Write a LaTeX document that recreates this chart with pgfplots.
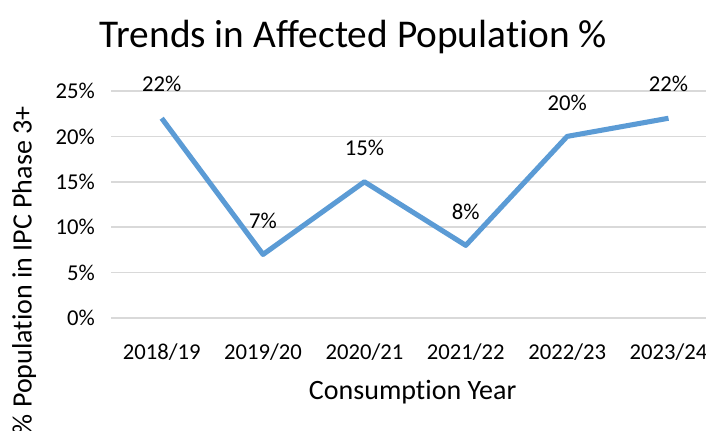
\documentclass[border=0pt]{standalone}
\usepackage{pgfplots}
\pgfplotsset{compat=1.18}
\usepackage{fontspec}
\setmainfont{Carlito}[Ligatures=NoCommon]
\definecolor{lineblue}{HTML}{5B9BD5}
\definecolor{gridgray}{HTML}{D9D9D9}
\begin{document}
\begin{tikzpicture}
\begin{axis}[
  at={(83.25pt,84pt)}, anchor=south west,
  scale only axis, width=446.25pt, height=170.25pt,
  xmin=-0.5, xmax=5.37, ymin=0, ymax=0.25,
  /pgf/number format/assume math mode=true,
  axis line style={draw=none},
  major tick length=0pt,
  xtick={0,1,2,3,4,5},
  xticklabels={2018/19,2019/20,2020/21,2021/22,2022/23,2023/24},
  ytick={0,0.05,0.10,0.15,0.20,0.25},
  yticklabels={0\%,5\%,10\%,15\%,20\%,25\%},
  ymajorgrids, major grid style={gridgray, line width=1.1pt},
  tick label style={font=\fontsize{17}{20}\selectfont},
  xticklabel style={anchor=center, yshift=-25.5pt},
  yticklabel style={anchor=east, xshift=-8.6pt},
  xlabel={Consumption Year},
  ylabel={\% Population in IPC Phase 3+},
  every axis x label/.style={at={(axis description cs:0.507,0)}, anchor=center, yshift=-55.5pt, font=\fontsize{21}{25}\selectfont},
  every axis y label/.style={at={(axis description cs:-0.146,0.21)}, anchor=center, rotate=90, font=\fontsize{21}{25}\selectfont},
  clip=false,
]
\addplot[lineblue, line width=3.8pt, line join=round,
  nodes near coords={\pgfmathprintnumber[fixed,precision=0]{\pgfplotspointmeta}\%},
  point meta={y*100},
  every node near coord/.append style={anchor=center, yshift=25.5pt, black, font=\fontsize{17}{20}\selectfont}]
coordinates {(0,0.22) (1,0.07) (2,0.15) (3,0.08) (4,0.20) (5,0.22)};
\end{axis}
\node[font=\fontsize{29.5}{34}\selectfont] at (265pt,294.75pt) {Trends in Affected Population \%};
\pgfresetboundingbox
\path (0,0) rectangle (529.5pt,322.5pt);
\end{tikzpicture}
\end{document}
